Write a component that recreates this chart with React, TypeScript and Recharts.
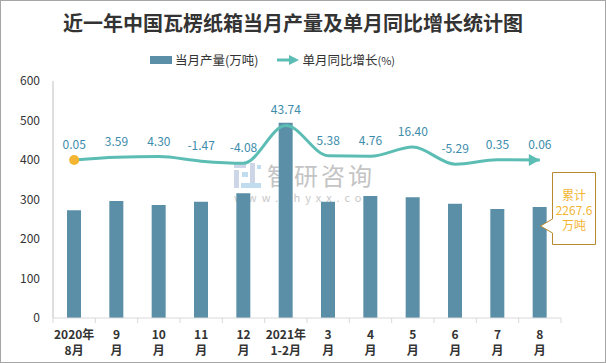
import React from "react";
import {
  Bar,
  ComposedChart,
  LabelList,
  Line,
  XAxis,
  YAxis,
} from "recharts";

// Monthly corrugated box output (万吨) and YoY growth (%), Aug 2020 – Aug 2021.
const months = ["2020-08", "2020-09", "2020-10", "2020-11", "2020-12", "2021-01/02", "2021-03", "2021-04", "2021-05", "2021-06", "2021-07", "2021-08"];
const tickTop = ["2020年", "9", "10", "11", "12", "2021年", "3", "4", "5", "6", "7", "8"];
const tickBottom = ["8月", "月", "月", "月", "月", "1-2月", "月", "月", "月", "月", "月", "月"];
const output = [273, 296, 286, 294, 316, 494, 294, 309, 306, 289, 276, 281];
const growth = [0.05, 3.59, 4.3, -1.47, -4.08, 43.74, 5.38, 4.76, 16.4, -5.29, 0.35, 0.06];
const yTicks = [0, 100, 200, 300, 400, 500, 600];

const W = 606;
const H = 363;
const M = { top: 80, right: 46, bottom: 0, left: 0 };
const Y_W = 52;
const X_H = 46;
const bandW = (W - M.right - Y_W) / months.length;

const BAR = "#5b8fa7";
const LINE = "#5cbdb4";
const LABEL = "#3d8cab";
const GOLD = "#f3b532";
const FONT = '"Noto Sans CJK SC", "Noto Sans", sans-serif';

const data = months.map((m, i) => ({ month: m, output: output[i], growth: growth[i] }));

function MonthTick(props: any) {
  const { x, y, index } = props;
  const last = index === months.length - 1;
  return (
    <g>
      <line x1={x - bandW / 2} x2={x - bandW / 2} y1={y} y2={y + 5} stroke="#d9d9d9" />
      {last && <line x1={x + bandW / 2} x2={x + bandW / 2} y1={y} y2={y + 5} stroke="#d9d9d9" />}
      <text x={x} y={y + 15} textAnchor="middle" dominantBaseline="central" fontSize={12} fontWeight={700} fill="#333" fontFamily={FONT}>
        {tickTop[index]}
      </text>
      <text x={x} y={y + 31} textAnchor="middle" dominantBaseline="central" fontSize={12} fontWeight={700} fill="#333" fontFamily={FONT}>
        {tickBottom[index]}
      </text>
    </g>
  );
}

function GrowthDot(props: any) {
  const { cx, cy, index } = props;
  if (index === 0) return <circle key={index} cx={cx} cy={cy} r={5} fill={GOLD} />;
  if (index === growth.length - 1)
    return <path key={index} d={`M${cx},${cy} L${cx - 11},${cy - 6} L${cx - 11},${cy + 6} Z`} fill={LINE} />;
  return <g key={index} />;
}

export default function App() {
  return (
    <div
      style={{
        position: "absolute",
        left: 0,
        top: 0,
        width: W,
        height: H,
        background: "#fff",
        border: "1px solid #a6a6a6",
        boxSizing: "border-box",
        fontFamily: FONT,
        overflow: "hidden",
      }}
    >
      {/* title */}
      <div style={{ position: "absolute", left: 62, width: 400, top: 8, textAlign: "center", fontSize: 20, fontWeight: 700, color: "#333", lineHeight: "28px", whiteSpace: "nowrap" }}>
        近一年中国瓦楞纸箱当月产量及单月同比增长统计图
      </div>

      {/* legend */}
      <div style={{ position: "absolute", top: 49, left: 149, display: "flex", alignItems: "center", fontSize: 12.5, color: "#333", lineHeight: "20px", whiteSpace: "nowrap" }}>
        <span style={{ display: "inline-block", width: 22, height: 8, background: BAR, marginRight: 3 }} />
        <span>当月产量(万吨)</span>
        <svg width={22} height={12} style={{ marginLeft: 19, marginRight: 3 }}>
          <line x1={0} y1={6} x2={13} y2={6} stroke={LINE} strokeWidth={3} />
          <path d="M22,6 L12,1 L12,11 Z" fill={LINE} />
        </svg>
        <span>单月同比增长</span>
        <span style={{ fontSize: 11 }}>(%)</span>
      </div>

      {/* watermark, behind the bars */}
      <div style={{ position: "absolute", left: 233, top: 160, color: "#c4c4c4", whiteSpace: "nowrap" }}>
        <svg width={28} height={26} style={{ position: "absolute", left: 0, top: 2 }}>
          <rect x={0} y={0} width={12} height={5} fill="#ccd6e6" />
          <rect x={0} y={7} width={5} height={18} fill="#ccd6e6" />
          <rect x={8} y={9} width={6} height={5} fill="#c2dcef" />
          <rect x={16} y={0} width={5} height={25} fill="#ccd6e6" />
          <rect x={7} y={20} width={20} height={5} fill="#c2dcef" />
          <rect x={23} y={2} width={4} height={4} fill="#c2dcef" />
        </svg>
        <div style={{ position: "absolute", left: 33, top: 0, fontSize: 24, lineHeight: "28px", letterSpacing: 3 }}>智研咨询</div>
        <div style={{ position: "absolute", left: 0, top: 30, fontSize: 11, lineHeight: "12px", letterSpacing: 5, color: "#c8c8c8" }}>www.chyxx.com</div>
      </div>

      <div style={{ position: "absolute", left: 0, top: 0 }}>
        <ComposedChart width={W} height={H} data={data} margin={M}>
          <XAxis
            dataKey="month"
            interval={0}
            height={X_H}
            tickSize={0}
            tickMargin={0}
            tickLine={false}
            axisLine={{ stroke: "#d9d9d9" }}
            tick={<MonthTick />}
          />
          <YAxis
            yAxisId="left"
            width={Y_W}
            domain={[0, 600]}
            ticks={yTicks}
            tickSize={0}
            tickMargin={13}
            tickLine={false}
            axisLine={{ stroke: "#bfbfbf" }}
            tick={{ fill: "#333", fontSize: 12, fontFamily: FONT }}
          />
          <YAxis yAxisId="right" orientation="right" domain={[-200, 100]} hide />
          <Bar yAxisId="left" dataKey="output" fill={BAR} barSize={14} isAnimationActive={false} />
          <Line
            yAxisId="right"
            type="monotone"
            dataKey="growth"
            stroke={LINE}
            strokeWidth={3}
            dot={<GrowthDot />}
            activeDot={false}
            isAnimationActive={false}
          >
            <LabelList
              dataKey="growth"
              position="top"
              offset={11}
              formatter={(v: any) => Number(v).toFixed(2)}
              style={{ fill: LABEL, fontSize: 12, fontFamily: FONT }}
            />
          </Line>
        </ComposedChart>
      </div>

      {/* cumulative callout */}
      <svg width={70} height={80} style={{ position: "absolute", left: 536, top: 168 }}>
        <path d="M15.5,3.5 L58.5,3.5 L58.5,75.5 L15.5,75.5 L15.5,64 L3.5,57 L15.5,50 Z" fill="#fff" stroke="#b8892f" strokeWidth={1} />
        <text x={37} y={25} textAnchor="middle" dominantBaseline="central" fontSize={12} fill={GOLD} fontFamily={FONT}>累计</text>
        <text x={37} y={40} textAnchor="middle" dominantBaseline="central" fontSize={12} fill={GOLD} fontFamily={FONT}>2267.6</text>
        <text x={37} y={55} textAnchor="middle" dominantBaseline="central" fontSize={12} fill={GOLD} fontFamily={FONT}>万吨</text>
      </svg>
    </div>
  );
}
